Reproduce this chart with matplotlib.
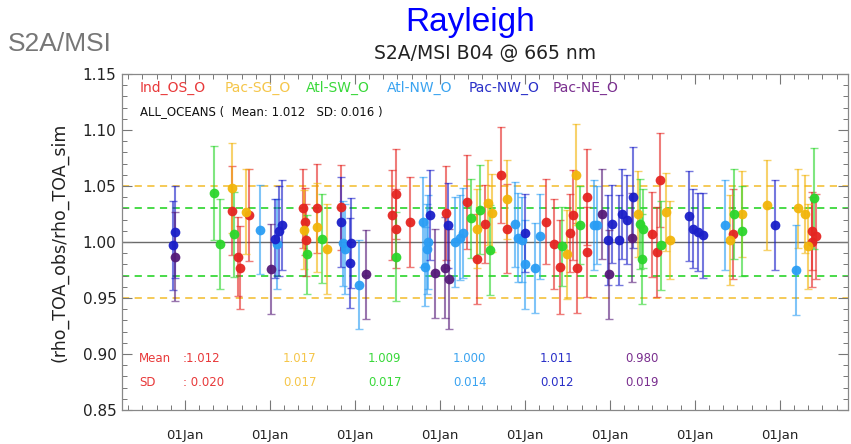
import matplotlib
matplotlib.use("Agg")
import matplotlib.pyplot as plt
from matplotlib.ticker import MultipleLocator, FixedLocator

# ---------------- data ----------------
series_names = ["Ind_OS_O", "Pac-SG_O", "Atl-SW_O", "Atl-NW_O", "Pac-NW_O", "Pac-NE_O"]
series_colors = ["#e52521", "#f2b50a", "#2bd62b", "#2a9df4", "#1a1fc9", "#551a78"]
text_colors = ["#e8393a", "#f5c64a", "#39d83a", "#3aa3f0", "#2a30c8", "#7a2f8f"]
series_means = ["1.012", "1.017", "1.009", "1.000", "1.011", "0.980"]
series_sds = ["0.020", "0.017", "0.017", "0.014", "0.012", "0.019"]

# decimal year, ratio, uncertainty
red_x = [2016.553, 2016.624, 2016.647, 2016.753, 2017.388, 2017.412, 2017.424, 2017.553, 2017.835,
         2018.435, 2018.482, 2018.482, 2018.647, 2019.071, 2019.318, 2019.435, 2019.529, 2019.718,
         2019.788, 2020.247, 2020.341, 2020.412, 2020.529, 2020.565, 2020.612, 2020.729, 2020.729,
         2021.494, 2021.553, 2021.588, 2022.447, 2023.376, 2023.376, 2023.424]
red_y = [1.028, 0.987, 0.977, 1.024, 1.030, 1.018, 1.002, 1.030, 1.031,
         1.024, 1.043, 1.012, 1.018, 1.026, 1.036, 0.985, 1.016, 1.060,
         1.012, 1.018, 0.998, 0.978, 1.008, 1.024, 0.977, 1.040, 0.991,
         1.007, 0.991, 1.055, 1.007, 1.010, 1.000, 1.005]
red_e = [0.040, 0.035, 0.037, 0.041, 0.035, 0.030, 0.032, 0.040, 0.038,
         0.040, 0.040, 0.035, 0.040, 0.042, 0.042, 0.040, 0.035, 0.043,
         0.040, 0.038, 0.040, 0.042, 0.035, 0.040, 0.040, 0.043, 0.040,
         0.038, 0.040, 0.042, 0.040, 0.035, 0.040, 0.038]

yel_x = [2016.553, 2016.718, 2017.400, 2017.553, 2017.671, 2019.435, 2019.565, 2019.612, 2019.788,
         2020.494, 2020.600, 2021.329, 2021.659, 2021.706, 2022.412, 2022.553, 2022.847, 2023.212,
         2023.294, 2023.329]
yel_y = [1.048, 1.027, 1.011, 1.013, 0.994, 1.012, 1.035, 1.026, 1.038,
         0.989, 1.060, 1.025, 1.027, 1.002, 1.002, 1.025, 1.033, 1.030,
         1.025, 0.996]
yel_e = [0.040, 0.038, 0.035, 0.040, 0.040, 0.035, 0.038, 0.035, 0.035,
         0.040, 0.045, 0.038, 0.035, 0.035, 0.040, 0.038, 0.040, 0.035,
         0.035, 0.038]

grn_x = [2016.341, 2016.412, 2016.576, 2017.435, 2017.612, 2018.482, 2019.365, 2019.471, 2019.588,
         2020.435, 2020.647, 2021.353, 2021.388, 2021.376, 2021.600, 2022.459, 2022.553, 2023.400]
grn_y = [1.044, 0.998, 1.007, 0.989, 1.003, 0.987, 1.021, 1.029, 0.993,
         0.996, 1.015, 1.016, 1.012, 0.985, 0.997, 1.025, 1.010, 1.039]
grn_e = [0.042, 0.040, 0.038, 0.035, 0.040, 0.040, 0.035, 0.040, 0.040,
         0.035, 0.035, 0.040, 0.035, 0.040, 0.040, 0.040, 0.040, 0.045]

lbl_x = [2016.882, 2017.082, 2017.859, 2017.882, 2018.047, 2018.800, 2018.824, 2018.859, 2018.847,
         2019.176, 2019.235, 2019.271, 2019.882, 2019.918, 2019.965, 2020.000, 2020.118, 2020.176,
         2020.812, 2020.847, 2022.353, 2023.188]
lbl_y = [1.011, 0.998, 0.999, 0.994, 0.962, 1.018, 0.978, 1.000, 0.994,
         1.000, 1.004, 1.008, 1.016, 1.004, 1.002, 0.980, 0.977, 1.005,
         1.015, 1.015, 1.015, 0.975]
lbl_e = [0.040, 0.040, 0.038, 0.040, 0.040, 0.040, 0.035, 0.042, 0.040,
         0.040, 0.038, 0.040, 0.038, 0.040, 0.038, 0.040, 0.040, 0.038,
         0.040, 0.035, 0.040, 0.040]

blu_x = [2015.859, 2015.882, 2017.059, 2017.106, 2017.141, 2017.835, 2017.953, 2017.941, 2018.882,
         2019.094, 2020.000, 2020.976, 2021.024, 2021.106, 2021.141, 2021.200, 2021.271, 2021.929,
         2021.976, 2022.035, 2022.094, 2022.941]
blu_y = [0.997, 1.009, 1.003, 1.010, 1.015, 1.018, 0.999, 0.981, 1.024,
         1.015, 1.008, 1.002, 1.016, 1.002, 1.025, 1.020, 1.040, 1.023,
         1.012, 1.009, 1.006, 1.015]
blu_e = [0.040, 0.041, 0.035, 0.040, 0.040, 0.040, 0.040, 0.040, 0.040,
         0.038, 0.035, 0.040, 0.035, 0.040, 0.040, 0.040, 0.045, 0.040,
         0.035, 0.035, 0.038, 0.040]

pur_x = [2015.882, 2017.012, 2018.129, 2018.941, 2019.059, 2019.106, 2020.906, 2020.988, 2021.259]
pur_y = [0.987, 0.976, 0.971, 0.972, 0.977, 0.967, 1.025, 0.971, 1.004]
pur_e = [0.040, 0.040, 0.040, 0.040, 0.045, 0.045, 0.040, 0.040, 0.040]

series_x = [red_x, yel_x, grn_x, lbl_x, blu_x, pur_x]
series_y = [red_y, yel_y, grn_y, lbl_y, blu_y, pur_y]
series_e = [red_e, yel_e, grn_e, lbl_e, blu_e, pur_e]

year_ticks = [2016, 2017, 2018, 2019, 2020, 2021, 2022, 2023]
x_tick_labels = ["01Jan"] * len(year_ticks)
y_ticks = [0.85, 0.90, 0.95, 1.00, 1.05, 1.10, 1.15]
all_mean, all_sd = "1.012", "0.016"

# ---------------- figure ----------------
W, H = 851, 444
fig = plt.figure(figsize=(W / 100, H / 100), dpi=100)
ax = fig.add_axes([122 / W, 34 / H, 726 / W, 336 / H])

def ftxt(x, y, s, **kw):
    kw.setdefault("va", "center")
    fig.text(x / W, 1 - y / H, s, **kw)

# reference lines
ax.axhline(1.00, color="#6a6a6a", lw=1.0, zorder=1)
for v in (1.03, 0.97):
    ax.axhline(v, color="#3ad83a", lw=1.3, ls=(0, (4, 3)), zorder=1)
for v in (1.05, 0.95):
    ax.axhline(v, color="#f5c64a", lw=1.3, ls=(0, (4, 3)), zorder=1)

for xs, ys, es, c in zip(series_x, series_y, series_e, series_colors):
    ax.errorbar(xs, ys, yerr=es, fmt="none", ecolor=c, elinewidth=1.5,
                capsize=3, capthick=1.0, alpha=0.6, zorder=2)
    ax.plot(xs, ys, "o", color=c, ms=7, mec="none", zorder=3, alpha=0.95)

ax.set_xlim(2015.26, 2023.80)
ax.set_ylim(0.85, 1.15)
ax.yaxis.set_major_locator(FixedLocator(y_ticks))
ax.yaxis.set_minor_locator(MultipleLocator(0.01))
ax.set_yticklabels([f"{v:.2f}" for v in y_ticks], fontsize=11, color="#222222")
ax.xaxis.set_major_locator(FixedLocator(year_ticks))
ax.xaxis.set_minor_locator(MultipleLocator(1 / 6))
ax.set_xticklabels(x_tick_labels, fontsize=9.5, color="#222222")

ax.tick_params(which="both", direction="in", top=True, right=True, color="#777777")
ax.tick_params(which="major", length=7, width=0.8)
ax.tick_params(which="minor", length=3.5, width=0.7)
ax.tick_params(axis="x", which="major", pad=14)
ax.tick_params(axis="y", which="major", pad=4)
for s in ax.spines.values():
    s.set_color("#888888")
    s.set_linewidth(0.9)

ax.set_ylabel("(rho_TOA_obs/rho_TOA_sim", fontsize=12.5, color="#222222", labelpad=10)

# header texts
ftxt(470, 22, "Rayleigh", ha="center", fontsize=24, color="#0000ff", family="Liberation Sans")
ftxt(8, 44, "S2A/MSI", ha="left", fontsize=19, color="#777777", family="Liberation Sans")
ftxt(485, 53, "S2A/MSI B04 @ 665 nm", ha="center", fontsize=13.5, color="#222222")

# legend-like labels
leg_x = [140, 225, 306, 387, 469, 553]
for xx, name, c in zip(leg_x, series_names, text_colors):
    ftxt(xx, 88, name, ha="left", fontsize=10, color=c)
ftxt(140, 112, f"ALL_OCEANS (  Mean: {all_mean}   SD: {all_sd} )", ha="left",
     fontsize=8.5, color="#111111")

# stats at bottom
ftxt(139, 359, "Mean", ha="left", fontsize=8.5, color=text_colors[0])
ftxt(139, 383, "SD", ha="left", fontsize=8.5, color=text_colors[0])
stat_x = [183, 283, 368, 453, 540, 625]
for i, (xx, m, sd, c) in enumerate(zip(stat_x, series_means, series_sds, text_colors)):
    pre = ":" if i == 0 else ""
    pre2 = ": " if i == 0 else ""
    ftxt(xx, 359, pre + m, ha="left", fontsize=8.5, color=c)
    ftxt(xx, 383, pre2 + sd, ha="left", fontsize=8.5, color=c)

fig.savefig("out.png", dpi=100)
